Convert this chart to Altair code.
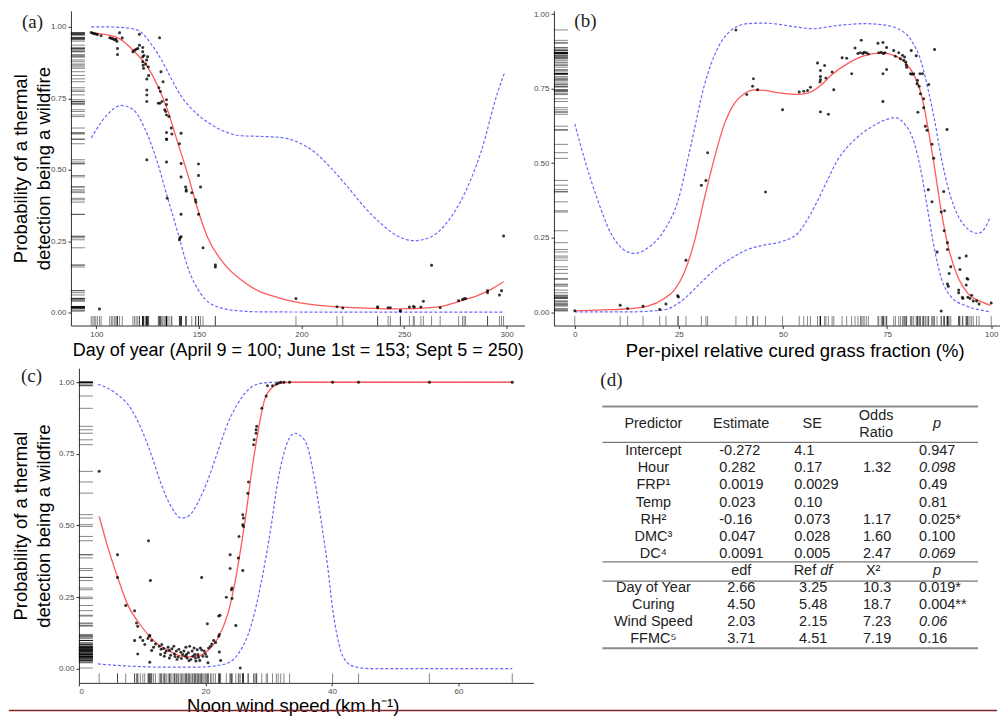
import altair as alt
import pandas as pd

# ---------------- data ----------------
# Panel (a): day of year
A_points = [(97.5, 0.980), (98.3, 0.978), (99.0, 0.976), (99.7, 0.975), (100.5, 0.973), (102.3, 0.969),
            (101.5, 0.013), (106.5, 0.962), (107.3, 0.960), (108.0, 0.958), (108.8, 0.955), (109.5, 0.957),
            (110.0, 0.950), (110.3, 0.924), (110.3, 0.903), (111.3, 0.979), (112.6, 0.961), (117.8, 0.913),
            (118.6, 0.918), (119.4, 0.922), (120.2, 0.924), (121.0, 0.974), (121.0, 0.936), (122.6, 0.928),
            (122.6, 0.913), (122.6, 0.895), (122.6, 0.878), (122.8, 0.866), (123.0, 0.855), (123.2, 0.900),
            (124.0, 0.870), (124.5, 0.884), (125.0, 0.895), (125.3, 0.860), (124.6, 0.818), (124.6, 0.779),
            (124.6, 0.762), (124.6, 0.739), (124.6, 0.535), (125.5, 0.830), (130.8, 0.962), (130.5, 0.787),
            (131.2, 0.774), (131.5, 0.843), (132.5, 0.808), (130.2, 0.733), (131.0, 0.733), (132.0, 0.739),
            (133.3, 0.710), (133.8, 0.704), (134.2, 0.692), (134.2, 0.745), (134.2, 0.728), (135.4, 0.686),
            (134.2, 0.630), (134.2, 0.608), (134.2, 0.606), (134.2, 0.527), (134.5, 0.400), (136.5, 0.646),
            (136.8, 0.625), (140.5, 0.591), (141.3, 0.628), (141.3, 0.522), (141.3, 0.475), (141.3, 0.344),
            (140.8, 0.262), (141.3, 0.266), (140.5, 0.255), (143.5, 0.440), (143.8, 0.430), (143.8, 0.425),
            (146.5, 0.420), (148.3, 0.395), (148.5, 0.387), (149.8, 0.520), (149.8, 0.480), (150.8, 0.440),
            (149.8, 0.344), (152.0, 0.227), (158.0, 0.167), (158.0, 0.160), (197.3, 0.050), (217.3, 0.021),
            (220.1, 0.016), (237.1, 0.021), (237.1, 0.017), (242.2, 0.017), (243.3, 0.017), (248.2, 0.008),
            (248.2, 0.005), (252.6, 0.020), (254.5, 0.022), (255.0, 0.020), (258.2, 0.020), (259.4, 0.040),
            (263.4, 0.166), (267.6, 0.017), (276.6, 0.042), (278.5, 0.046), (279.3, 0.049), (280.0, 0.050),
            (290.7, 0.077), (290.7, 0.070), (296.5, 0.062), (297.5, 0.077), (298.5, 0.268)]
A_fit = [(97.5, 0.980), (110, 0.963), (118.6, 0.913), (125.1, 0.858), (130, 0.792), (134.8, 0.707),
         (139.7, 0.594), (144.6, 0.483), (149.4, 0.362), (154.3, 0.262), (162.4, 0.170), (170.5, 0.115),
         (178.7, 0.077), (188.4, 0.053), (198.1, 0.036), (214.4, 0.022), (230.6, 0.016), (246.9, 0.013),
         (263.1, 0.018), (269.6, 0.024), (279.3, 0.045), (285.8, 0.060), (292, 0.080), (298.5, 0.108)]
A_upper = [(97.5, 1.0), (105, 1.0), (113.7, 0.997), (120.2, 0.988), (126.7, 0.940), (131.6, 0.886),
           (136.4, 0.820), (141.3, 0.758), (146.2, 0.715), (154.3, 0.666), (162.4, 0.634), (170.5, 0.619),
           (178.7, 0.617), (190, 0.613), (198.1, 0.597), (206.3, 0.562), (214.4, 0.506), (222.5, 0.440),
           (230.6, 0.370), (238.7, 0.312), (246.9, 0.268), (255, 0.252), (263.1, 0.265), (271.2, 0.318),
           (279.3, 0.414), (287.4, 0.560), (295.6, 0.770), (299, 0.840)]
A_lower = [(97.5, 0.611), (105, 0.690), (112.1, 0.725), (118, 0.710), (123.5, 0.646), (130, 0.520),
           (134.8, 0.400), (139.7, 0.280), (144.6, 0.158), (151, 0.065), (159.2, 0.020), (170, 0.006),
           (180, 0.003), (220, 0.002), (260, 0.002), (299, 0.002)]

# Panel (b): cured grass fraction
B_points = [(0, 0.005), (10.9, 0.023), (12.7, 0.012), (16.4, 0.020), (20.4, 0.009), (21.9, 0.027),
            (24.7, 0.055), (24.9, 0.051), (26.7, 0.174), (30.4, 0.426), (31.5, 0.442), (31.9, 0.535),
            (38.7, 0.947), (41.3, 0.730), (42.7, 0.758), (42.9, 0.783), (43.9, 0.746), (45.8, 0.403),
            (49.9, 0.679), (53.9, 0.739), (55.0, 0.741), (55.9, 0.744), (56.6, 0.755), (58.3, 0.836),
            (59.0, 0.811), (59.0, 0.791), (59.0, 0.780), (58.9, 0.772), (59.0, 0.672), (60.0, 0.828),
            (60.3, 0.786), (60.9, 0.664), (61.8, 0.806), (62.2, 0.746), (64.2, 0.854), (65.3, 0.852),
            (66.5, 0.800), (67.3, 0.886), (68.0, 0.868), (68.6, 0.870), (68.8, 0.912), (69.2, 0.868),
            (69.5, 0.872), (70.0, 0.870), (70.5, 0.866), (72.8, 0.902), (74.0, 0.905), (73.0, 0.870),
            (73.6, 0.872), (74.1, 0.868), (74.5, 0.870), (74.0, 0.800), (74.0, 0.707), (74.9, 0.888),
            (74.9, 0.814), (76.6, 0.878), (77.0, 0.859), (77.8, 0.870), (78.2, 0.850), (78.7, 0.862),
            (79.0, 0.845), (79.2, 0.856), (79.5, 0.839), (79.7, 0.822), (79.6, 0.830), (80.8, 0.878),
            (80.6, 0.800), (81.0, 0.798), (81.4, 0.800), (82.0, 0.860), (82.2, 0.766), (82.3, 0.778),
            (82.7, 0.758), (83.0, 0.733), (82.4, 0.671), (82.9, 0.800), (83.5, 0.800), (83.8, 0.716),
            (83.8, 0.686), (84.2, 0.624), (84.6, 0.610), (85.0, 0.764), (85.8, 0.563), (86.2, 0.516),
            (86.4, 0.881), (84.9, 0.411), (85.8, 0.370), (88.0, 0.336), (88.8, 0.340), (88.6, 0.405),
            (89.4, 0.613), (87.0, 0.202), (88.7, 0.273), (89.5, 0.233), (89.5, 0.210), (89.5, 0.094),
            (89.7, 0.087), (88.0, 0.004), (89.9, 0.130), (90.3, 0.152), (92.4, 0.182), (92.5, 0.143),
            (92.2, 0.074), (92.2, 0.065), (93.1, 0.050), (93.2, 0.046), (94.0, 0.188), (94.0, 0.091),
            (94.2, 0.113), (94.4, 0.110), (94.4, 0.050), (94.9, 0.046), (95.3, 0.057), (95.7, 0.037),
            (96.5, 0.037), (97.1, 0.027), (100.0, 0.031)]
B_fit = [(0, 0.004), (5.4, 0.007), (13.5, 0.012), (17.5, 0.020), (21.5, 0.046), (23.9, 0.074),
         (26.3, 0.133), (28.7, 0.235), (31.1, 0.380), (33.5, 0.515), (35.9, 0.630), (38.3, 0.700),
         (40.7, 0.733), (43.1, 0.746), (45.5, 0.744), (49.5, 0.735), (53.5, 0.731), (55.9, 0.735),
         (59.1, 0.761), (61.5, 0.794), (65.5, 0.834), (69.6, 0.861), (73.6, 0.869), (76.8, 0.861),
         (79.2, 0.839), (81.6, 0.792), (83.2, 0.732), (84.8, 0.620), (86.4, 0.485), (88, 0.340),
         (89.6, 0.225), (92, 0.118), (94.4, 0.063), (97.6, 0.035), (99.8, 0.023)]
B_upper = [(0, 0.632), (2.2, 0.520), (5.4, 0.380), (8.7, 0.264), (11.9, 0.208), (14.3, 0.197),
           (17.5, 0.215), (21.5, 0.275), (24.7, 0.370), (27.9, 0.560), (31.1, 0.760), (34.3, 0.885),
           (37.5, 0.945), (41.5, 0.968), (45.5, 0.970), (49.5, 0.965), (53.5, 0.956), (57.5, 0.951),
           (61.5, 0.959), (65.5, 0.965), (69.6, 0.968), (73.6, 0.965), (77.6, 0.951), (80.8, 0.912),
           (83.2, 0.840), (84.8, 0.750), (86.4, 0.645), (88, 0.520), (89.6, 0.420), (91.2, 0.350),
           (93.6, 0.290), (96.8, 0.264), (98.4, 0.280), (99.8, 0.320)]
B_lower = [(0, 0.001), (13.5, 0.001), (21.5, 0.008), (26.3, 0.045), (29.5, 0.088), (33.5, 0.141),
           (37.5, 0.180), (41.5, 0.210), (45.5, 0.225), (49.5, 0.236), (53.5, 0.264), (56.7, 0.331),
           (59.9, 0.420), (63.1, 0.510), (67.1, 0.577), (71.2, 0.621), (74.4, 0.644), (76.8, 0.653),
           (79.2, 0.632), (81.6, 0.565), (83.2, 0.470), (84.8, 0.340), (86.4, 0.210), (88, 0.115),
           (90.4, 0.051), (93.6, 0.023), (96.8, 0.009), (99.8, 0.001)]

# Panel (c): noon wind speed
C_points = [(3.2, 0.689), (6.1, 0.398), (6.1, 0.319), (7.4, 0.221), (8.8, 0.203), (8.8, 0.099), (9.1, 0.160),
            (9.3, 0.149), (9.3, 0.052), (9.7, 0.110), (10.1, 0.099), (10.4, 0.085), (11.0, 0.447),
            (11.3, 0.308), (10.9, 0.106), (11.1, 0.114), (11.2, 0.117), (11.2, 0.023), (11.5, 0.099),
            (11.5, 0.064), (11.8, 0.075), (12.1, 0.087), (12.7, 0.079), (12.9, 0.050), (13.0, 0.068),
            (13.1, 0.085), (13.4, 0.071), (13.5, 0.044), (13.6, 0.055), (13.8, 0.062), (14.1, 0.075),
            (14.3, 0.038), (14.3, 0.064), (14.5, 0.047), (14.7, 0.070), (15.0, 0.079), (15.1, 0.052),
            (15.2, 0.043), (15.4, 0.062), (15.5, 0.033), (15.7, 0.041), (15.8, 0.068), (16.1, 0.058),
            (16.2, 0.036), (16.4, 0.050), (16.6, 0.062), (16.8, 0.044), (16.9, 0.075), (17.0, 0.050),
            (17.1, 0.038), (17.3, 0.056), (17.4, 0.028), (17.5, 0.079), (17.7, 0.033), (17.9, 0.062),
            (18.0, 0.044), (18.2, 0.073), (18.3, 0.050), (18.4, 0.038), (18.5, 0.027), (18.7, 0.067),
            (18.8, 0.050), (18.9, 0.040), (19.1, 0.029), (19.2, 0.073), (19.4, 0.319), (19.4, 0.066),
            (19.6, 0.044), (19.8, 0.062), (20.0, 0.052), (20.2, 0.043), (20.3, 0.157), (20.4, 0.021),
            (20.5, 0.073), (20.8, 0.079), (21.0, 0.087), (21.3, 0.099), (21.6, 0.092), (22.1, 0.114),
            (22.2, 0.120), (22.1, 0.184), (22.3, 0.187), (22.2, 0.059), (22.4, 0.029), (23.3, 0.250),
            (23.9, 0.398), (23.9, 0.350), (24.1, 0.276), (24.2, 0.282), (24.2, 0.245), (24.8, 0.151),
            (25.2, 0.387), (25.3, 0.462), (25.5, 0.003), (25.9, 0.343), (25.9, 0.538), (26.0, 0.526),
            (25.9, 0.503), (26.0, 0.497), (26.7, 0.613), (26.8, 0.652), (27.6, 0.782), (27.7, 0.799),
            (28.0, 0.822), (28.0, 0.834), (28.1, 0.846), (28.9, 0.909), (29.6, 0.952), (29.8, 0.988),
            (30.6, 0.988), (31.2, 0.993), (31.5, 0.997), (31.9, 1.0), (32.4, 1.0), (33.3, 1.0),
            (40.1, 1.0), (44.2, 1.0), (55.4, 1.0), (68.5, 1.0)]
C_fit = [(3.2, 0.532), (4.6, 0.422), (6.2, 0.314), (7.7, 0.224), (9.3, 0.166), (10.9, 0.120),
         (12.5, 0.085), (14.1, 0.065), (15.6, 0.048), (17.2, 0.042), (18.8, 0.045), (20.4, 0.064),
         (21.9, 0.104), (23.5, 0.189), (24.6, 0.294), (25.6, 0.422), (26.4, 0.538), (27.2, 0.672),
         (28.3, 0.826), (29.3, 0.935), (30.4, 0.979), (31.9, 0.997), (33.5, 1.0), (40, 1.0), (50, 1.0),
         (60, 1.0), (68.5, 1.0)]
C_upper = [(3, 0.993), (5.6, 0.965), (8.3, 0.905), (9.8, 0.840), (11.4, 0.750), (13, 0.645),
           (14.6, 0.565), (16.2, 0.526), (17.5, 0.536), (18.8, 0.580), (20.4, 0.660), (21.9, 0.755),
           (23.5, 0.855), (25.1, 0.925), (27.2, 0.982), (29.3, 0.998), (31, 1.0), (40, 1.0), (55, 1.0),
           (68.5, 1.0)]
C_lower = [(3, 0.017), (8.3, 0.009), (13.5, 0.006), (18.8, 0.006), (23, 0.016), (25.1, 0.050),
           (27.2, 0.150), (28.8, 0.300), (30.4, 0.500), (31.4, 0.650), (32.5, 0.760), (34.1, 0.822),
           (35.2, 0.810), (36.2, 0.770), (37.2, 0.666), (38.3, 0.515), (39.3, 0.360), (40.1, 0.210),
           (41.4, 0.062), (42.5, 0.020), (43.5, 0.008), (46, 0.001), (68.5, 0.001)]

Y_TICKS = [0, 0.25, 0.5, 0.75, 1.0]
A_TICKS = [100, 150, 200, 250, 300]
B_TICKS = [0, 25, 50, 75, 100]
C_TICKS = [0, 20, 40, 60]
Y_TITLE = ["Probability of a thermal", "detection being a wildfire"]
A_XTITLE = "Day of year (April 9 = 100; June 1st = 153; Sept 5 = 250)"
B_XTITLE = "Per-pixel relative cured grass fraction (%)"
C_XTITLE = "Noon wind speed (km h\u207b\u00b9)"

# Panel (d): model table
T1_pred = ["Intercept", "Hour", "FRP\u00b9", "Temp", "RH\u00b2", "DMC\u00b3", "DC\u2074"]
T1_est = ["-0.272", "0.282", "0.0019", "0.023", "-0.16", "0.047", "0.0091"]
T1_se = ["4.1", "0.17", "0.0029", "0.10", "0.073", "0.028", "0.005"]
T1_or = ["", "1.32", "", "", "1.17", "1.60", "2.47"]
T1_p = ["0.947", "0.098", "0.49", "0.81", "0.025*", "0.100", "0.069"]
T1_p_italic = [False, True, False, False, False, False, True]
T2_term = ["Day of Year", "Curing", "Wind Speed", "FFMC\u2075"]
T2_edf = ["2.66", "4.50", "2.03", "3.71"]
T2_refdf = ["3.25", "5.48", "2.15", "4.51"]
T2_chi = ["10.3", "18.7", "7.23", "7.19"]
T2_p = ["0.019*", "0.004**", "0.06", "0.16"]
T2_p_italic = [False, False, True, False]

# ---------------- styling / layout ----------------
SANS = "Liberation Sans"
SERIF = "Liberation Serif"
RED = "#ff5a5a"
BLUE = "#6767ff"
MAROON = "#7d2424"


def panel_layers(points, fit, upper, lower, xdom, ydom, w, h, xticks, xtitle, ytitle, label,
                 lab_x, lab_y, ytpad=3, xtpad=2, xtitle_x=None, xtitle_size=18.5, x0=0, x1=None):
    """x0/x1: pixel span of the plotting frame inside the view."""
    P = pd.DataFrame(points, columns=["x", "y"])
    F = pd.DataFrame(fit, columns=["x", "y"])
    U = pd.DataFrame(upper, columns=["x", "y"])
    L = pd.DataFrame(lower, columns=["x", "y"])
    if x0 or x1 is not None:
        xs = alt.Scale(domain=xdom, range=[x0, x1 if x1 is not None else w], nice=False, zero=False)
    else:
        xs = alt.Scale(domain=xdom, nice=False, zero=False)
    ys = alt.Scale(domain=ydom, nice=False, zero=False)
    xkw = dict(values=xticks, title=xtitle, titlePadding=xtpad, titleFontSize=xtitle_size)
    if xtitle_x is not None:
        xkw["titleX"] = xtitle_x
    xax = alt.Axis(**xkw)
    ykw = dict(values=Y_TICKS, format=".2f")
    if x0:
        ykw["offset"] = -x0
    if ytitle:
        yax = alt.Axis(title=ytitle, titlePadding=ytpad, titleLineHeight=23.7, **ykw)
    else:
        yax = alt.Axis(title=None, **ykw)
    X = alt.X("x:Q", scale=xs, axis=xax)
    Y = alt.Y("y:Q", scale=ys, axis=yax)

    up = alt.Chart(U).mark_line(color=BLUE, strokeDash=[3, 2], strokeWidth=1.2,
                                interpolate="monotone").encode(x=X, y=Y)
    lo = alt.Chart(L).mark_line(color=BLUE, strokeDash=[3, 2], strokeWidth=1.2,
                                interpolate="monotone").encode(x=X, y=Y)
    fl = alt.Chart(F).mark_line(color=RED, strokeWidth=1.3,
                                interpolate="monotone").encode(x=X, y=Y)
    pts = alt.Chart(P).mark_circle(size=9, color="black", opacity=0.8).encode(x=X, y=Y)
    rug_l = alt.Chart(P).mark_rule(color="black", opacity=0.6, strokeWidth=0.8).encode(
        y=Y, x=alt.value(x0), x2=alt.value(x0 + 14))
    rug_b = alt.Chart(P).mark_rule(color="black", opacity=0.6, strokeWidth=0.8).encode(
        x=X, y=alt.value(h), y2=alt.value(h - 9.5))
    lab = alt.Chart(pd.DataFrame({"t": [label]})).mark_text(
        font=SERIF, fontSize=19, color="#222", align="center", baseline="middle").encode(
        text="t:N", x=alt.value(lab_x), y=alt.value(lab_y))
    return [up, lo, fl, pts, rug_l, rug_b, lab]


# page positions (px) of the plotting frames
A_LEFT, TOP = 73, 9
B_LEFT = 556.5
C_FRAME = 81           # y axis of panel (c)
C_TOP = 366.7

A_W, H = 454, 315
B_W = 446
C_OFF = C_FRAME - A_LEFT          # panel (c) frame starts 8 px right of panel (a)'s

A = alt.layer(*panel_layers(A_points, A_fit, A_upper, A_lower, [87.6, 308.7], [-0.045, 1.056], A_W, H,
                            A_TICKS, A_XTITLE, Y_TITLE, "(a)", 34.5 - A_LEFT, 20 - TOP, ytpad=-3.5, xtpad=3,
                            xtitle_size=18)).properties(width=A_W, height=H)
B = alt.layer(*panel_layers(B_points, B_fit, B_upper, B_lower, [-5, 102], [-0.045, 1.011], B_W, H,
                            B_TICKS, B_XTITLE, None, "(b)", 588 - B_LEFT, 19.5 - TOP, xtpad=3,
                            xtitle_x=797.5 - B_LEFT)).properties(width=B_W, height=H)
C_inner = alt.layer(*panel_layers(C_points, C_fit, C_upper, C_lower, [0, 71.85], [-0.049, 1.049], A_W, H,
                                  C_TICKS, C_XTITLE, Y_TITLE, "(c)", 33.5 - A_LEFT, 375 - C_TOP, ytpad=4.5,
                                  xtpad=1, xtitle_x=295 - A_LEFT, x0=C_OFF, x1=C_OFF + 455))

# ---------------- table (d), placed to the right of panel (c) ----------------
def px(page_x):
    return page_x - A_LEFT


R0_PX, R_STEP = 450 - C_TOP, 17.05
ys_t = alt.Scale(domain=[-R0_PX / R_STEP, (H - R0_PX) / R_STEP], reverse=True, nice=False, zero=False)
YT = alt.Y("row:Q", scale=ys_t, axis=None)

t1 = pd.DataFrame({"row": list(range(7)), "pred": T1_pred, "est": T1_est, "se": T1_se,
                   "odds": T1_or, "p": T1_p, "it": T1_p_italic})
t2 = pd.DataFrame({"row": list(range(8, 12)), "pred": T2_term, "edf": T2_edf, "refdf": T2_refdf,
                   "chi": T2_chi, "p": T2_p, "it": T2_p_italic})


def tcol(df, field, page_x, align, italic=False):
    return alt.Chart(df).mark_text(font=SANS, fontSize=14.5, color="#222", align=align,
                                   baseline="middle",
                                   fontStyle="italic" if italic else "normal").encode(
        x=alt.value(px(page_x)), y=YT, text=f"{field}:N")


HEADERS = [("Predictor", -1.58, 656, "center", False), ("Estimate", -1.58, 744, "center", False),
           ("SE", -1.58, 815, "center", False), ("Odds", -2.07, 879, "center", False),
           ("Ratio", -1.06, 879, "center", False), ("p", -1.58, 940, "center", True),
           ("edf", 7, 744, "center", False), ("Ref", 7, 819, "right", False),
           ("df", 7, 823, "left", True), ("X\u00b2", 7, 876, "center", False),
           ("p", 7, 940, "center", True)]

t_layers = []
for txt, r, xp, al, it in HEADERS:
    t_layers.append(tcol(pd.DataFrame({"row": [r], "t": [txt]}), "t", xp, al, it))

t_layers += [
    tcol(t1, "pred", 656, "center"), tcol(t1, "est", 722, "left"), tcol(t1, "se", 797, "left"),
    tcol(t1, "odds", 880, "center"),
    tcol(t1[~t1["it"]], "p", 922, "left"), tcol(t1[t1["it"]], "p", 922, "left", True),
    tcol(t2, "pred", 656, "center"), tcol(t2, "edf", 744, "center"), tcol(t2, "refdf", 816, "center"),
    tcol(t2, "chi", 880, "center"),
    tcol(t2[~t2["it"]], "p", 922, "left"), tcol(t2[t2["it"]], "p", 922, "left", True),
]

rules_thick = pd.DataFrame({"row": [-2.64, 11.55]})
rules_thin = pd.DataFrame({"row": [-0.53, 6.49, 7.62]})
t_layers.append(alt.Chart(rules_thick).mark_rule(color="#8a8a8a", strokeWidth=2).encode(
    y=YT, x=alt.value(px(605)), x2=alt.value(px(981))))
t_layers.append(alt.Chart(rules_thin).mark_rule(color="#777777", strokeWidth=1.3).encode(
    y=YT, x=alt.value(px(605)), x2=alt.value(px(981))))
t_layers.append(alt.Chart(pd.DataFrame({"t": ["(d)"]})).mark_text(
    font=SERIF, fontSize=19, color="#222", align="center", baseline="middle").encode(
    text="t:N", x=alt.value(px(614)), y=alt.value(378.5 - C_TOP)))
# page separator line under the bottom row
t_layers.append(alt.Chart(pd.DataFrame({"k": [0]})).mark_rule(color=MAROON, strokeWidth=1.5).encode(
    x=alt.value(px(11)), x2=alt.value(px(1000)), y=alt.value(709.3 - C_TOP)))

T = alt.layer(*t_layers)

C = alt.layer(C_inner, T).resolve_scale(y="independent").properties(width=A_W, height=H)

chart = alt.concat(
    A, B, C, columns=2, bounds="flush",
    spacing={"row": C_TOP - TOP - H, "column": B_LEFT - A_LEFT - A_W},
).properties(
    padding={"left": 0, "top": 1.5, "right": 0, "bottom": 0}
).configure_view(stroke=None).configure_axis(
    grid=False, domainColor="#333333", domainWidth=1, tickColor="#333333", tickSize=3, tickWidth=1,
    labelFont=SANS, labelFontSize=8, labelColor="#4d4d4d", labelPadding=2,
    titleFont=SANS, titleFontSize=18.5, titleFontWeight="normal", titleColor="#000000"
)

chart.save("out.html", embed_options={"renderer": "svg", "actions": False})
